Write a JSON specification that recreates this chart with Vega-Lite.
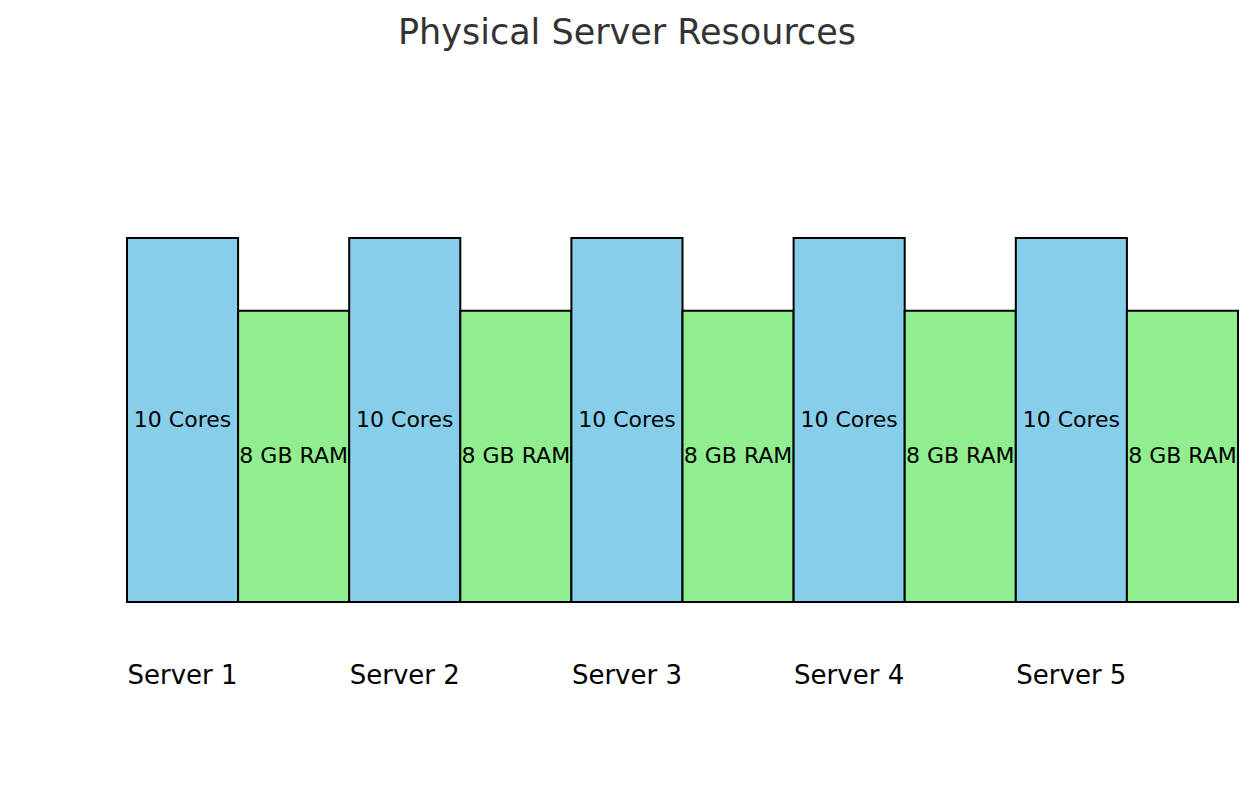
{
  "$schema": "https://vega.github.io/schema/vega-lite/v6.json",
  "autosize": "none",
  "width": 1111,
  "height": 546,
  "padding": {"left": 127, "top": 56, "right": 16, "bottom": 198},
  "background": "white",
  "config": {"view": {"stroke": null}, "font": "DejaVu Sans"},
  "title": {
    "text": "Physical Server Resources",
    "font": "DejaVu Sans",
    "fontSize": 35,
    "fontWeight": "normal",
    "color": "#333333",
    "anchor": "middle",
    "frame": "group",
    "baseline": "alphabetic",
    "offset": 11,
    "dx": -55.5,
    "dy": 34
  },
  "data": {
    "values": [
      {"server": "Server 1", "resource": "Cores", "key": "Server 1", "value": 10, "label": "10 Cores"},
      {"server": "Server 1", "resource": "RAM", "key": "Server 1 RAM", "value": 8, "label": "8 GB RAM"},
      {"server": "Server 2", "resource": "Cores", "key": "Server 2", "value": 10, "label": "10 Cores"},
      {"server": "Server 2", "resource": "RAM", "key": "Server 2 RAM", "value": 8, "label": "8 GB RAM"},
      {"server": "Server 3", "resource": "Cores", "key": "Server 3", "value": 10, "label": "10 Cores"},
      {"server": "Server 3", "resource": "RAM", "key": "Server 3 RAM", "value": 8, "label": "8 GB RAM"},
      {"server": "Server 4", "resource": "Cores", "key": "Server 4", "value": 10, "label": "10 Cores"},
      {"server": "Server 4", "resource": "RAM", "key": "Server 4 RAM", "value": 8, "label": "8 GB RAM"},
      {"server": "Server 5", "resource": "Cores", "key": "Server 5", "value": 10, "label": "10 Cores"},
      {"server": "Server 5", "resource": "RAM", "key": "Server 5 RAM", "value": 8, "label": "8 GB RAM"}
    ]
  },
  "transform": [{"calculate": "datum.value / 2", "as": "mid"}],
  "encoding": {
    "x": {
      "field": "key",
      "type": "nominal",
      "sort": null,
      "scale": {"paddingInner": 0, "paddingOuter": 0},
      "axis": {
        "title": null,
        "domain": false,
        "ticks": false,
        "labelAngle": 0,
        "labelFont": "DejaVu Sans",
        "labelFontSize": 26,
        "labelColor": "black",
        "labelBaseline": "alphabetic",
        "labelPadding": 81,
        "labelExpr": "indexof(datum.value, 'RAM') >= 0 ? '' : datum.value"
      }
    }
  },
  "layer": [
    {
      "mark": {"type": "bar", "stroke": "black", "strokeWidth": 2},
      "encoding": {
        "y": {"field": "value", "type": "quantitative", "scale": {"domain": [0, 15], "nice": false, "zero": true}, "axis": null},
        "color": {
          "field": "resource",
          "type": "nominal",
          "scale": {"domain": ["Cores", "RAM"], "range": ["#87CEEB", "#90EE90"]},
          "legend": null
        }
      }
    },
    {
      "mark": {"type": "text", "font": "DejaVu Sans", "fontSize": 22, "color": "black", "baseline": "middle", "align": "center"},
      "encoding": {
        "y": {"field": "mid", "type": "quantitative"},
        "text": {"field": "label"}
      }
    }
  ]
}
